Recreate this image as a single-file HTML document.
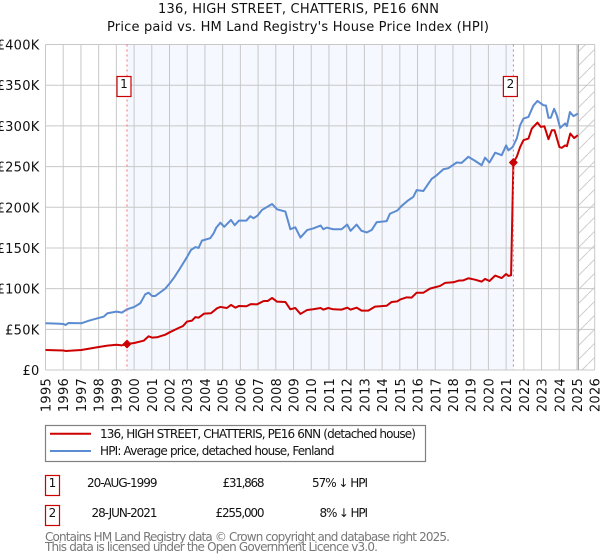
<!DOCTYPE html>
<html>
<head>
<meta charset="utf-8">
<style>
html,body{margin:0;padding:0;background:#fff;width:600px;height:560px;overflow:hidden}
svg{display:block;font-family:"DejaVu Sans","Liberation Sans",sans-serif}
</style>
</head>
<body>
<svg id="chart" xmlns="http://www.w3.org/2000/svg" width="600" height="560" viewBox="0 0 600 560">
<defs>
<pattern id="hatch" patternUnits="userSpaceOnUse" width="14" height="14">
<line x1="0" y1="14" x2="14" y2="0" stroke="#cfcfcf" stroke-width="1"/>
</pattern>
</defs>
<text x="298.5" y="13" text-anchor="middle" font-size="13" fill="#111" textLength="281" lengthAdjust="spacing">136, HIGH STREET, CHATTERIS, PE16 6NN</text>
<text x="298" y="31" text-anchor="middle" font-size="13" fill="#111" textLength="382" lengthAdjust="spacing">Price paid vs. HM Land Registry's House Price Index (HPI)</text>
<g id="plot-back"></g>
<g id="grid"></g>
<g id="x-axis"></g>
<g id="y-axis"></g>
<g id="series"></g>
<g id="events"></g>

<g>
<rect x="45.5" y="425.5" width="380" height="36" fill="#fff" stroke="#808080" stroke-width="1.2"/>
<line x1="50" y1="433.8" x2="91" y2="433.8" stroke="#cc0000" stroke-width="2"/>
<text x="100" y="438" font-size="12" fill="#111" textLength="316" lengthAdjust="spacing">136, HIGH STREET, CHATTERIS, PE16 6NN (detached house)</text>
<line x1="50" y1="451" x2="91" y2="451" stroke="#5b8bd0" stroke-width="2"/>
<text x="100" y="455" font-size="12" fill="#111" textLength="234.5" lengthAdjust="spacing">HPI: Average price, detached house, Fenland</text>
</g>

<g font-size="12" fill="#111">
<rect x="45.5" y="475.5" width="14" height="20" fill="#fff" stroke="#cc0000" stroke-width="1.2"/>
<text x="52.5" y="487" text-anchor="middle">1</text>
<text x="157.5" y="487" text-anchor="end" textLength="70.5" lengthAdjust="spacing">20-AUG-1999</text>
<text x="264.5" y="487" text-anchor="end" textLength="42" lengthAdjust="spacing">£31,868</text>
<text x="368" y="487" text-anchor="end" textLength="56" lengthAdjust="spacing">57% ↓ HPI</text>
<rect x="45.5" y="505.5" width="14" height="20" fill="#fff" stroke="#cc0000" stroke-width="1.2"/>
<text x="52.5" y="517" text-anchor="middle">2</text>
<text x="157.5" y="517" text-anchor="end" textLength="66" lengthAdjust="spacing">28-JUN-2021</text>
<text x="264.5" y="517" text-anchor="end" textLength="49" lengthAdjust="spacing">£255,000</text>
<text x="368" y="517" text-anchor="end" textLength="48.5" lengthAdjust="spacing">8% ↓ HPI</text>
</g>

<text x="45" y="541" font-size="12" fill="#777" textLength="405" lengthAdjust="spacing">Contains HM Land Registry data © Crown copyright and database right 2025.</text>
<text x="45" y="551" font-size="12" fill="#777" textLength="333" lengthAdjust="spacing">This data is licensed under the Open Government Licence v3.0.</text>
</svg>

<script>
var xTickYears = [1995,1996,1997,1998,1999,2000,2001,2002,2003,2004,2005,2006,2007,2008,2009,2010,2011,2012,2013,2014,2015,2016,2017,2018,2019,2020,2021,2022,2023,2024,2025,2026];
var yTickValues = [0,50,100,150,200,250,300,350,400];
var yTickLabels = ["£0","£50K","£100K","£150K","£200K","£250K","£300K","£350K","£400K"];

var hpiYears = [1995,1995.66,1996.02,1996.13,1996.3,1997.02,1997.45,1998.01,1998.28,1998.5,1999.01,1999.31,1999.6,2000.01,2000.35,2000.63,2000.82,2001.01,2001.2,2001.76,2002.01,2002.23,2002.51,2002.98,2003.21,2003.46,2003.64,2003.83,2004.3,2004.49,2004.64,2004.87,2005.09,2005.47,2005.68,2005.92,2006.34,2006.56,2006.75,2006.98,2007.22,2007.79,2008.07,2008.54,2008.73,2008.82,2009.1,2009.39,2009.77,2010.11,2010.53,2010.68,2010.87,2011.24,2011.71,2012.03,2012.22,2012.56,2012.84,2013.13,2013.41,2013.69,2014.26,2014.44,2014.86,2015.1,2015.48,2015.76,2015.95,2016.33,2016.8,2017.08,2017.46,2017.74,2018.21,2018.49,2018.87,2019.25,2019.62,2019.81,2020.06,2020.38,2020.75,2021,2021.13,2021.37,2021.6,2021.79,2021.98,2022.26,2022.54,2022.77,2023.1,2023.25,2023.39,2023.52,2023.71,2023.86,2024.05,2024.33,2024.43,2024.6,2024.8,2025.05];
var hpiValues = [57.4,57,56.5,55.3,57.8,57.4,60.6,64,65.5,69.7,71.7,70.5,74.6,77.5,82,93,95,91,91,100,106.5,112.7,122,138.5,147.5,151,150,159,162,168,175,181,176,184.4,178,183.6,183.6,189,186.5,190,196.7,204,197.5,194.7,180,173,175.4,162.7,172,174,177.5,173,175,173,173,178.7,171,178.7,171,169,172,181.5,183,192,196,201.6,208.6,212.7,221,220,235,239.3,246.7,248,255,254.5,262,257,251.6,261,255,267,264,276,270,274,284.4,300.8,309,311,325,330.7,325.4,325,310,310,321,313,297.5,303,299.6,317,312,315];

var paidYears = [1995,1996.02,1996.13,1997.02,1998.01,1998.5,1999.01,1999.31,1999.6,2000.01,2000.54,2000.82,2001.01,2001.29,2001.76,2002.01,2002.51,2002.76,2002.98,2003.27,2003.46,2003.64,2003.96,2004.34,2004.68,2004.87,2005.24,2005.47,2005.72,2005.92,2006.34,2006.6,2006.94,2007.32,2007.54,2007.79,2008.07,2008.54,2008.82,2009.1,2009.39,2009.77,2010.11,2010.53,2010.68,2010.96,2011.24,2011.71,2012.03,2012.22,2012.56,2012.84,2013.22,2013.6,2014.26,2014.54,2014.86,2015.01,2015.39,2015.67,2015.95,2016.33,2016.7,2017.27,2017.55,2018.02,2018.31,2018.59,2018.87,2019.25,2019.62,2019.81,2020.06,2020.38,2020.75,2021,2021.13,2021.28,2021.41,2021.6,2021.79,2021.98,2022.26,2022.45,2022.77,2022.96,2023.16,2023.39,2023.58,2023.73,2024.01,2024.14,2024.33,2024.43,2024.62,2024.84,2025.05];
var paidValues = [24.6,24,23.4,24.6,28.3,30,31,30.3,31.868,33.2,36,41.4,39.8,40.2,43.4,46.3,51.6,54,59.4,60.7,65,64.3,69.3,69.7,75.8,77.5,76.2,80,76.6,78.7,78.3,81,80.7,84.8,84.8,88.5,84,83.6,74.6,76.2,68.9,73.8,74.6,76.2,74.2,76.2,74.6,74.2,76.6,74.2,76.6,73,73,77.9,79,83.6,84.4,86.5,89.3,89,95,95,100,103.3,107,107.8,109.8,110.2,112.7,111,108.6,111.9,109.4,116,113,118,115.6,116.4,255,262,274,282.4,284.4,296.7,304,298.8,299.6,283.6,294.7,294.7,274,273,276,275,290.6,285,288.5];

var saleYears = [1999.6,2021.41];
var saleValues = [31.868,255];
var saleLabels = ["1","2"];
var dataEndYear = 2025.08;

var NS = 'http://www.w3.org/2000/svg';
var plotLeft = 45.5, plotRight = 594.7, plotTop = 44.5, plotBottom = 370;
var yearMin = 1995, yearMax = 2026, valueMin = 0, valueMax = 400;

function xScale(year){ return plotLeft + (year - yearMin) * (plotRight - plotLeft) / (yearMax - yearMin); }
function yScale(value){ return plotBottom - (value - valueMin) * (plotBottom - plotTop) / (valueMax - valueMin); }
function mk(tag, parent, props){
  var el = document.createElementNS(NS, tag);
  for (var k in props) el.setAttribute(k, props[k]);
  parent.appendChild(el);
  return el;
}
function pathFrom(xs, ys){
  var d = '';
  for (var i = 0; i < xs.length; i++) d += (i ? 'L' : 'M') + xScale(xs[i]).toFixed(2) + ' ' + yScale(ys[i]).toFixed(2);
  return d;
}

var back = document.getElementById('plot-back');
var shade = mk('rect', back, {x: xScale(saleYears[0]), y: plotTop, width: xScale(saleYears[1]) - xScale(saleYears[0]), height: plotBottom - plotTop, fill: '#f5f8ff'});


var hatchRect = mk('rect', back, {x: xScale(dataEndYear), y: plotTop, width: plotRight - xScale(dataEndYear), height: plotBottom - plotTop, fill: 'url(#hatch)'});



var grid = document.getElementById('grid');
var xAxis = document.getElementById('x-axis');
var yAxis = document.getElementById('y-axis');

xTickYears.forEach(function(year){
  var x = xScale(year);
  var line = mk('line', grid, {x1: x, y1: plotTop, x2: x, y2: plotBottom, stroke: '#c8c8c8', 'stroke-width': 1});
  
  
  var label = mk('text', xAxis, {transform: 'translate(' + (x + 5) + ',378) rotate(-90)', 'text-anchor': 'end', 'font-size': 13, 'letter-spacing': 0.25, fill: '#111'});
  label.textContent = year;
  
  
});

yTickValues.forEach(function(value, i){
  var y = yScale(value);
  var line = mk('line', grid, {x1: plotLeft, y1: y, x2: plotRight, y2: y, stroke: '#c8c8c8', 'stroke-width': 1});
  
  
  var label = mk('text', yAxis, {x: 39.5, y: y + 5, 'text-anchor': 'end', 'font-size': 13, 'letter-spacing': 0.25, fill: '#111'});
  label.textContent = yTickLabels[i];
  
  
});

var endLine = mk('line', grid, {x1: xScale(dataEndYear), y1: plotTop, x2: xScale(dataEndYear), y2: plotBottom, stroke: '#a8a8a8', 'stroke-width': 1.2});



var seriesLayer = document.getElementById('series');
var hpiPath = mk('path', seriesLayer, {d: pathFrom(hpiYears, hpiValues), fill: 'none', stroke: '#5b8bd0', 'stroke-width': 2, 'stroke-linejoin': 'round'});


var paidPath = mk('path', seriesLayer, {d: pathFrom(paidYears, paidValues), fill: 'none', stroke: '#cc0000', 'stroke-width': 2, 'stroke-linejoin': 'round'});



var eventsLayer = document.getElementById('events');
saleYears.forEach(function(year, i){
  var x = xScale(year);
  var y = yScale(saleValues[i]);
  var dash = mk('line', eventsLayer, {x1: x, y1: plotTop, x2: x, y2: plotBottom, stroke: '#f07080', 'stroke-width': 1, 'stroke-dasharray': '2 3'});
  
  
  var marker = mk('path', eventsLayer, {d: 'M' + x + ' ' + (y - 3.6) + 'L' + (x + 3.6) + ' ' + y + 'L' + x + ' ' + (y + 3.6) + 'L' + (x - 3.6) + ' ' + y + 'Z', fill: '#cc0000', stroke: '#cc0000', 'stroke-width': 1.4, 'stroke-linejoin': 'round'});
  
  
  var badge = mk('rect', eventsLayer, {x: x - 10, y: 76.5, width: 14, height: 20, fill: '#fff', stroke: '#cc0000', 'stroke-width': 1.2});
  
  
  var badgeText = mk('text', eventsLayer, {x: x - 3, y: 88, 'text-anchor': 'middle', 'font-size': 12, fill: '#111'});
  badgeText.textContent = saleLabels[i];
  
  
});
</script>
</body>
</html>
